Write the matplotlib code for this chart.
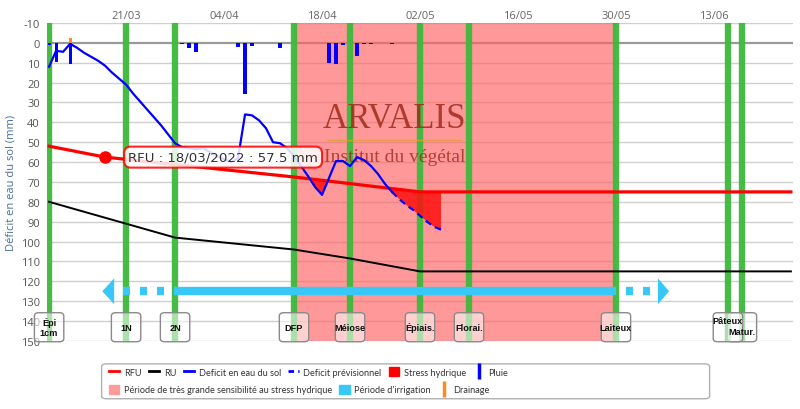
import numpy as np
import pandas as pd
import matplotlib
matplotlib.use('Agg')
import matplotlib.pyplot as plt
import matplotlib.dates as mdates
from matplotlib.patches import FancyBboxPatch, Patch
from matplotlib.lines import Line2D

plt.rcParams['font.family'] = ['Open Sans', 'DejaVu Sans']
plt.rcParams['axes.unicode_minus'] = False

# ---------------- data ----------------
stage_names = ['Épi\n1cm', '1N', '2N', 'DFP', 'Méiose', 'Épiais.', 'Florai.', 'Laiteux', 'Pâteux', 'Matur.']
stage_dates = ['2022-03-10', '2022-03-21', '2022-03-28', '2022-04-14', '2022-04-22',
               '2022-05-02', '2022-05-09', '2022-05-30', '2022-06-15', '2022-06-17']

rfu_dates = ['2022-03-10', '2022-03-18', '2022-04-14', '2022-05-02', '2022-06-24']
rfu_vals = [52, 57.5, 67.5, 75, 75]

ru_dates = ['2022-03-10', '2022-03-21', '2022-03-28', '2022-04-14', '2022-04-22', '2022-05-02', '2022-06-24']
ru_vals = [80, 91, 98, 104, 108.5, 115, 115]

# daily soil water deficit, observed (from 10/03) and forecast (from 28/04)
deficit_start = '2022-03-10'
deficit_vals = [12, 4, 4.5, 0.5, 2.5, 5, 7, 9, 11.5, 15, 18, 21, 25.5, 29.5, 33.5, 37.5,
                41.5, 46, 50.5, 52.5, 53, 53.5, 53, 55, 57, 58.5, 60, 58, 36, 36.5, 39, 43,
                50, 50.5, 53, 57, 62, 67, 72.5, 76.5, 68, 59.5, 59.5, 62, 57.5, 59, 62, 66,
                71, 75]
forecast_start = '2022-04-28'
forecast_vals = [75, 78.5, 81.5, 84, 87, 90, 92.5, 94]

rain_dates = ['2022-03-10', '2022-03-11', '2022-03-13', '2022-03-29', '2022-03-30', '2022-03-31',
              '2022-04-06', '2022-04-07', '2022-04-08', '2022-04-12', '2022-04-19', '2022-04-20',
              '2022-04-21', '2022-04-23', '2022-04-24', '2022-04-25', '2022-04-28']
rain_vals = [1, 9.5, 10.5, 0.5, 2.5, 4.5, 2, 25.5, 1.5, 2.5, 10, 10.5, 1, 6.5, 0.5, 0.5, 0.5]

drain_dates = ['2022-03-13']
drain_vals = [2.5]

sensitive_start, sensitive_end = '2022-04-14', '2022-05-30'
irrig_start, irrig_end = '2022-03-28', '2022-05-30'
irrig_level = 125

tip_date, tip_val = '2022-03-18', 57.5

# ---------------- figure ----------------
fig = plt.figure(figsize=(8, 4.1), dpi=100)
ax = fig.add_axes([0.05875, 0.166, 0.9325, 0.7755])

d = lambda s: mdates.date2num(pd.Timestamp(s))
day = 1.0

ax.set_xlim(d('2022-03-10') - 0.3, d('2022-06-24') + 0.3)
ax.set_ylim(150, -10)

# grid
for v in range(-10, 151, 10):
    if v == 0:
        ax.axhline(v, color='#9a9a9a', lw=1.6, zorder=0.6)
    else:
        ax.axhline(v, color='#cfcfcf', lw=1, zorder=0.5)

# sensitive period
ax.axvspan(d(sensitive_start), d(sensitive_end), color='#ff6262', alpha=0.65, lw=0, zorder=1)

# stage bars
for sd in stage_dates:
    ax.axvline(d(sd), color='#3cb93c', lw=4.6, alpha=0.95, zorder=1.2)

# watermark
ax.text(0.466, 0.70, 'ARVALIS', transform=ax.transAxes, ha='center', va='center',
        family=['Liberation Serif'], fontsize=25, color='#a02a1c', alpha=0.85, zorder=1.5)
ax.text(0.466, 0.58, 'Institut du végétal', transform=ax.transAxes, ha='center', va='center',
        family=['Liberation Serif'], fontsize=14, color='#a02a1c', alpha=0.8, zorder=1.5)
ax.plot([0.375, 0.555], [0.632, 0.632], transform=ax.transAxes, color='#e0a030', lw=1, alpha=0.8, zorder=1.5)

# RU and RFU
ax.plot(pd.to_datetime(ru_dates), ru_vals, color='black', lw=1.4, zorder=3)
ax.plot(pd.to_datetime(rfu_dates), rfu_vals, color='#ff0000', lw=2.3, zorder=3)

# deficit lines
obs_dates = pd.date_range(deficit_start, periods=len(deficit_vals), freq='D')
fc_dates = pd.date_range(forecast_start, periods=len(forecast_vals), freq='D')
ax.plot(obs_dates, deficit_vals, color='#0000ff', lw=1.6, zorder=4)
ax.plot(fc_dates, forecast_vals, color='#0000ff', lw=1.6, ls=(0, (3, 2)), zorder=4)

# water stress fill (deficit below RFU)
all_x = np.concatenate([mdates.date2num(obs_dates), mdates.date2num(fc_dates[1:])])
all_y = np.concatenate([deficit_vals, forecast_vals[1:]])
rfu_x = np.array([d(s) for s in rfu_dates])
rfu_on = np.interp(all_x, rfu_x, rfu_vals)
ax.fill_between(all_x, rfu_on, all_y, where=all_y > rfu_on, interpolate=True,
                color='#ff1010', alpha=0.85, lw=0, zorder=2.8)

# rain and drainage bars
ax.bar(pd.to_datetime(rain_dates), rain_vals, width=0.45, color='#0000ff', zorder=4)
ax.bar(pd.to_datetime(drain_dates), [-v for v in drain_vals], width=0.45, color='#ff8c1a', zorder=4)

# irrigation period arrow
cyan = '#38c8f8'
ax.plot([d(irrig_start), d(irrig_end)], [irrig_level] * 2, color=cyan, lw=6,
        solid_capstyle='butt', zorder=3.5)
ax.plot([d(irrig_start) - 7.4 * day, d(irrig_start)], [irrig_level] * 2, color=cyan, lw=6,
        ls=(0, (0.84, 1.2)), dash_capstyle='butt', zorder=3.5)
ax.plot([d(irrig_end) + 1.4 * day, d(irrig_end) + 5.2 * day], [irrig_level] * 2, color=cyan, lw=6,
        ls=(0, (0.84, 1.2)), dash_capstyle='butt', zorder=3.5)
x0 = d(irrig_start)
ax.fill([x0 - 10.4, x0 - 8.7, x0 - 8.7], [irrig_level, irrig_level - 6.5, irrig_level + 6.5],
        color=cyan, lw=0, zorder=3.5)
x1 = d(irrig_end)
ax.fill([x1 + 7.6, x1 + 6.0, x1 + 6.0], [irrig_level, irrig_level - 6.5, irrig_level + 6.5],
        color=cyan, lw=0, zorder=3.5)

# stage boxes
order = list(range(len(stage_names)))
order[-2], order[-1] = order[-1], order[-2]   # Pâteux drawn over Matur.
for i in order:
    xc = d(stage_dates[i])
    name = stage_names[i]
    box = FancyBboxPatch((xc - 2.1, 135.8), 4.2, 14.6,
                         boxstyle='round,pad=0,rounding_size=0.6',
                         mutation_aspect=2.8, fc='white', alpha=0.55, ec='none',
                         zorder=5, clip_on=False)
    ax.add_patch(box)
    edge = FancyBboxPatch((xc - 2.1, 135.8), 4.2, 14.6,
                          boxstyle='round,pad=0,rounding_size=0.6',
                          mutation_aspect=2.8, fc='none', ec='#8a8a8a', lw=1,
                          zorder=5, clip_on=False)
    ax.add_patch(edge)
    yt = 143
    if name == 'Pâteux':
        yt = 139.5
    elif name == 'Matur.':
        yt = 145.5
    ax.text(xc, yt, name, ha='center', va='center', fontsize=6.6, fontweight='bold',
            family=['Liberation Sans'], color='#111111', linespacing=1.25, zorder=5.2, clip_on=False)

# tooltip
ax.plot(pd.Timestamp(tip_date), tip_val, 'o', color='#ff0000', ms=8, zorder=6)
ax.text(d('2022-03-21') + 0.3, tip_val, 'RFU : 18/03/2022 : 57.5 mm', ha='left', va='center',
        fontsize=9.6, family=['DejaVu Sans'], color='#333333', zorder=6,
        bbox=dict(boxstyle='round,pad=0.3,rounding_size=0.5', fc='white', alpha=0.85,
                  ec='#ff0000', lw=1.5))

# axes styling
for s in ax.spines.values():
    s.set_visible(False)
ax.xaxis.tick_top()
ax.set_xticks(pd.date_range('2022-03-21', periods=7, freq='14D'))
ax.xaxis.set_major_formatter(mdates.DateFormatter('%d/%m'))
ax.set_yticks(range(-10, 151, 10))
ax.tick_params(axis='x', length=0, pad=1.5, labelsize=8, labelcolor='#666666')
ax.tick_params(axis='y', length=0, pad=5, labelsize=8, labelcolor='#555555')
ax.set_ylabel('Déficit en eau du sol (mm)', color='#4d6d96', fontsize=8, labelpad=3)

# legend (two rows in one frame)
h1 = [Line2D([], [], color='#ff0000', lw=2),
      Line2D([], [], color='black', lw=2),
      Line2D([], [], color='#0000ff', lw=2),
      Line2D([], [], color='#0000ff', lw=2, ls=(0, (2, 1.5))),
      Patch(color='#ff0000'),
      Line2D([], [], color='#0000ff', marker='|', ls='none', ms=11, mew=2.5)]
l1 = ['RFU', 'RU', 'Deficit en eau du sol', 'Deficit prévisionnel', 'Stress hydrique', 'Pluie']
h2 = [Patch(color='#ff9a9a'),
      Patch(color=cyan),
      Line2D([], [], color='#ff8c1a', marker='|', ls='none', ms=11, mew=2.5)]
l2 = ['Période de très grande sensibilité au stress hydrique', "Période d'irrigation", 'Drainage']
kw = dict(frameon=False, prop={'family': ['Lato', 'DejaVu Sans'], 'size': 6.6},
          handlelength=1.15, handleheight=1.1, handletextpad=0.5,
          columnspacing=0.8, borderpad=0, labelcolor='#333333')
fig.legend(h1, l1, ncol=6, loc='center left', bbox_to_anchor=(0.13, 0.090), **kw)
fig.legend(h2, l2, ncol=3, loc='center left', bbox_to_anchor=(0.13, 0.047), **kw)
frame = FancyBboxPatch((0.127, 0.025), 0.76, 0.085, boxstyle='round,pad=0,rounding_size=0.006',
                       transform=fig.transFigure, fc='none', ec='#b0b0b0', lw=1)
fig.add_artist(frame)

fig.savefig('out.png', dpi=100)
